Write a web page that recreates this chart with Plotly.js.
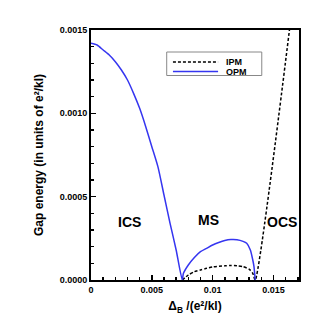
<!DOCTYPE html>
<html>
<head>
<meta charset="utf-8">
<script src="https://cdn.plot.ly/plotly-3.0.1.min.js"></script>
<style>
  html, body { margin: 0; padding: 0; background: #fff; }
  #chart { width: 329px; height: 329px; }
</style>
</head>
<body>
<div id="chart"></div>
<script>
// OPM (out-of-plane mode) gap, ICS + MS regions
const opmX = [0, 0.0005, 0.001, 0.0015, 0.002, 0.0025, 0.003, 0.0035, 0.004, 0.0045, 0.005, 0.0055, 0.006, 0.0065, 0.007, 0.0075,
              0.0076, 0.008, 0.0085, 0.009, 0.0095, 0.010, 0.0105, 0.011, 0.0115, 0.012, 0.0125, 0.0128, 0.0131, 0.0133, 0.0134, 0.0135];
const opmY = [0.00142, 0.00141, 0.00138, 0.00135, 0.00131, 0.00126, 0.00120, 0.00112, 0.00103, 0.00092, 0.00080, 0.00068, 0.00051, 0.00034, 0.00018, 0.0,
              0.00004, 0.00009, 0.000135, 0.00017, 0.00019, 0.00021, 0.000225, 0.000237, 0.000243, 0.000242, 0.000232, 0.00022, 0.00018, 0.00012, 0.00008, 0.0];

// IPM (in-plane mode) gap, MS + OCS regions
const ipmX = [0.0075, 0.008, 0.0085, 0.009, 0.0095, 0.010, 0.011, 0.0115, 0.012, 0.0125, 0.013, 0.0133, 0.0135, 0.0166];
const ipmY = [0.0, 0.00003, 0.00005, 0.00006, 0.00007, 0.000078, 0.000085, 0.000087, 0.000086, 0.00008, 0.000065, 0.00004, 0.0, 0.00167];

const seriesNames = ["IPM", "OPM"];
const seriesColors = ["black", "#3535f0"];
const seriesDash = ["3px,2px", "solid"];

const phaseNames = ["ICS", "MS", "OCS"];
const phaseX = [0.0032, 0.00964, 0.0157];
const phaseY = [0.00035, 0.00036, 0.00035];

const xTickVals = [0, 0.005, 0.01, 0.015];
const xTickText = ["0", "0.005", "0.01", "0.015"];
const yTickVals = [0, 0.0005, 0.001, 0.0015];
const yTickText = ["0.0000", "0.0005", "0.0010", "0.0015"];

const font = "Liberation Sans, Arial, sans-serif";

const traces = [
    {
        x: ipmX, y: ipmY, name: seriesNames[0],
        mode: "lines", type: "scatter",
        line: { color: seriesColors[0], width: 1.5, dash: seriesDash[0], shape: "spline", smoothing: 0.6 }
    },
    {
        x: opmX, y: opmY, name: seriesNames[1],
        mode: "lines", type: "scatter",
        line: { color: seriesColors[1], width: 1.5, dash: seriesDash[1], shape: "spline", smoothing: 0.6 }
    }
];

const annotations = phaseNames.map((name, i) => ({
    x: phaseX[i], y: phaseY[i],
    text: `<b>${name}</b>`,
    showarrow: false,
    font: { size: 14, color: "black", family: font },
    xanchor: "center"
}));

// hand-drawn legend box (plotly's own legend rows are too tall here)
const legendRowY = [0.872, 0.834];
const shapes = [{
    type: "rect", xref: "paper", yref: "paper",
    x0: 0.364, x1: 0.821, y0: 0.818, y1: 0.912,
    line: { color: "#888", width: 1 }, fillcolor: "white"
}];
seriesNames.forEach((name, i) => {
    shapes.push({
        type: "line", xref: "paper", yref: "paper",
        x0: 0.394, x1: 0.611, y0: legendRowY[i], y1: legendRowY[i],
        line: { color: seriesColors[i], width: 1.5, dash: seriesDash[i] }
    });
    annotations.push({
        xref: "paper", yref: "paper",
        x: 0.639, y: legendRowY[i],
        text: `<b>${name}</b>`,
        showarrow: false,
        xanchor: "left", yanchor: "middle",
        font: { size: 9, color: "black", family: font }
    });
});

const layout = {
    width: 329, height: 329,
    margin: { l: 91, r: 30, t: 30, b: 49 },
    paper_bgcolor: "white",
    plot_bgcolor: "white",
    font: { family: font, color: "black" },
    showlegend: false,
    shapes: shapes,
    annotations: annotations,
    xaxis: {
        range: [0, 0.0171],
        tickvals: xTickVals, ticktext: xTickText.map(t => `<b>${t}</b>`),
        ticks: "inside", ticklen: 5, tickwidth: 1.5, tickcolor: "black",
        minor: { dtick: 0.001, ticks: "inside", ticklen: 3, tickcolor: "black" },
        showline: true, linecolor: "black", linewidth: 2, mirror: true,
        showgrid: false, zeroline: false,
        tickfont: { size: 9, family: font },
        title: { text: "<b>Δ<sub>B</sub> /(e²/kl)</b>", font: { size: 12, family: font }, standoff: 8 }
    },
    yaxis: {
        range: [0, 0.0015],
        tickvals: yTickVals, ticktext: yTickText.map(t => `<b>${t}</b>`),
        ticks: "inside", ticklen: 5, tickwidth: 1.5, tickcolor: "black",
        minor: { dtick: 0.0001, ticks: "inside", ticklen: 3, tickcolor: "black" },
        showline: true, linecolor: "black", linewidth: 2, mirror: true,
        showgrid: false, zeroline: false,
        tickfont: { size: 9, family: font },
        title: { text: "<b>Gap energy (in units of e²/kl)</b>", font: { size: 12, family: font }, standoff: 13 }
    }
};

Plotly.newPlot("chart", traces, layout, { staticPlot: true, displayModeBar: false });
</script>
</body>
</html>
